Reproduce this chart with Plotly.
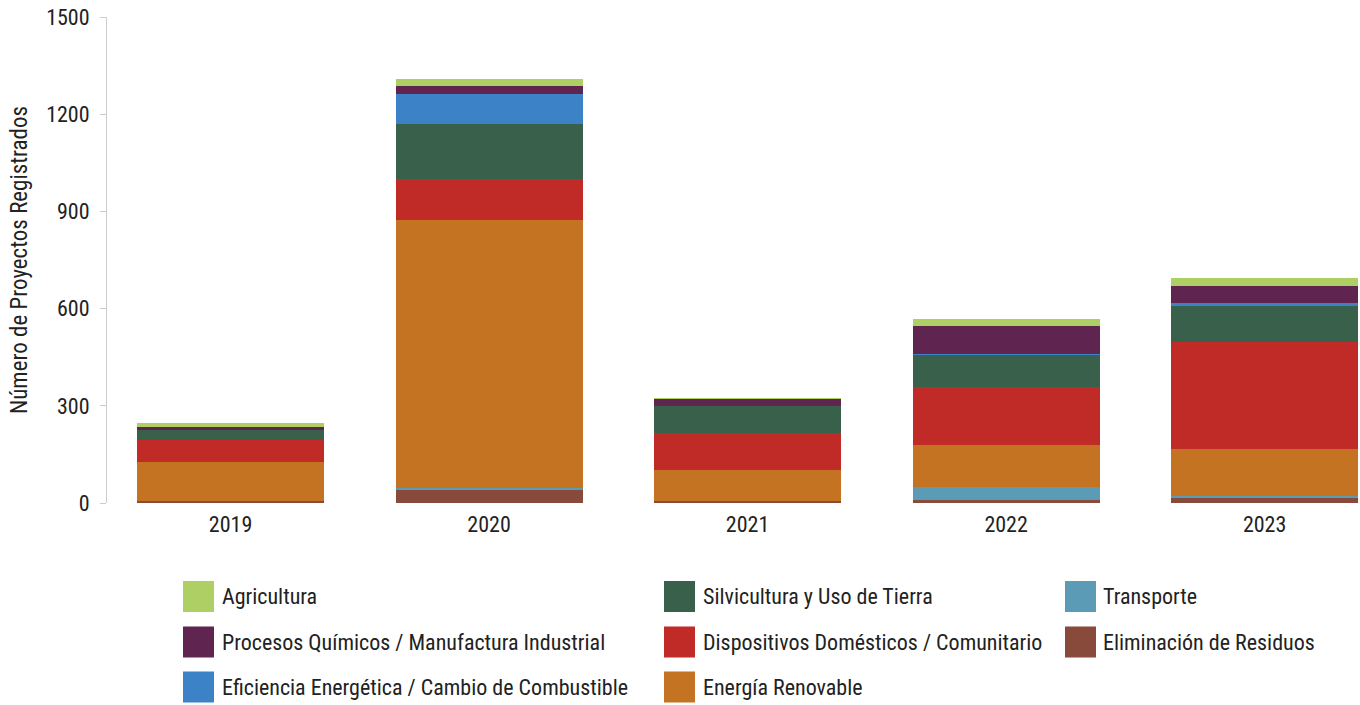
import plotly.graph_objects as go

years = ["2019", "2020", "2021", "2022", "2023"]

# stacked bottom -> top
eliminacion = [7, 39, 6, 9, 17]
transporte = [0, 7, 0, 40, 4]
energia = [119, 826, 96, 130, 145]
dispositivos = [70, 127, 113, 179, 331]
silvicultura = [29, 170, 84, 99, 113]
eficiencia = [0, 93, 0, 4, 6]
procesos = [9, 26, 22, 86, 53]
agricultura = [12, 21, 3, 21, 27]

series = [
    ("Eliminación de Residuos", eliminacion, "#874A3B"),
    ("Transporte", transporte, "#5B9BB5"),
    ("Energía Renovable", energia, "#C37322"),
    ("Dispositivos Domésticos / Comunitario", dispositivos, "#C02B28"),
    ("Silvicultura y Uso de Tierra", silvicultura, "#38604B"),
    ("Eficiencia Energética / Cambio de Combustible", eficiencia, "#3C82C6"),
    ("Procesos Químicos / Manufactura Industrial", procesos, "#5F2550"),
    ("Agricultura", agricultura, "#ADCF63"),
]
colors = {n: c for n, _, c in series}

# legend layout (columns of names)
legend_cols = [
    ["Agricultura", "Procesos Químicos / Manufactura Industrial",
     "Eficiencia Energética / Cambio de Combustible"],
    ["Silvicultura y Uso de Tierra", "Dispositivos Domésticos / Comunitario",
     "Energía Renovable"],
    ["Transporte", "Eliminación de Residuos"],
]

FONT = "Liberation Sans Narrow, Roboto Condensed, Arial Narrow, Roboto, sans-serif"
W, H = 1360, 705
L, R, T, B = 107, 0, 17, 202
PW = W - L - R
PH = H - T - B

fig = go.Figure()
for name, vals, col in series:
    fig.add_trace(go.Bar(
        x=years, y=vals, name=name, marker=dict(color=col, line=dict(width=0)),
        showlegend=False, width=0.723,
    ))


def px2paper_x(px):
    return (px - L) / PW


def px2paper_y(py):
    return (H - B - py) / PH


col_sw_x = [183, 664, 1065]
col_tx_x = [220, 701, 1101]
row_cy = [596.5, 642, 687]
SW = 31
shapes = []
annotations = []
for ci, names in enumerate(legend_cols):
    for ri, nm in enumerate(names):
        cy = row_cy[ri]
        shapes.append(dict(
            type="rect", xref="paper", yref="paper",
            x0=px2paper_x(col_sw_x[ci]), x1=px2paper_x(col_sw_x[ci] + SW),
            y0=px2paper_y(cy + SW / 2), y1=px2paper_y(cy - SW / 2),
            fillcolor=colors[nm], line=dict(width=0),
        ))
        annotations.append(dict(
            text=nm, xref="paper", yref="paper",
            x=px2paper_x(col_tx_x[ci]), y=px2paper_y(cy),
            xanchor="left", yanchor="middle", showarrow=False,
            font=dict(family=FONT, size=22, color="#222222"),
        ))

fig.update_layout(
    width=W, height=H,
    barmode="stack",
    margin=dict(l=L, r=R, t=T, b=B, autoexpand=False),
    paper_bgcolor="white", plot_bgcolor="white",
    font=dict(family=FONT, size=22, color="#222222"),
    shapes=shapes, annotations=annotations,
    xaxis=dict(
        range=[-0.478, 4.369], showgrid=False, showline=False, ticks="",
        tickfont=dict(size=22, color="#222222"), ticklabelstandoff=6,
    ),
    yaxis=dict(
        range=[0, 1500], tickvals=[0, 300, 600, 900, 1200, 1500],
        showgrid=False, zeroline=False, showline=True, linecolor="#cccccc",
        linewidth=1, ticks="outside", ticklen=6, tickcolor="#cccccc",
        tickfont=dict(size=22, color="#222222"), ticklabelstandoff=6,
        ticklabeloverflow="allow",
        title=dict(text="Número de Proyectos Registrados",
                   font=dict(size=23, color="#222222"), standoff=12),
    ),
)

fig.write_html(
    "out.html",
    config={"displayModeBar": False},
    post_script="document.body.style.margin='0';document.body.style.overflow='hidden';",
)
